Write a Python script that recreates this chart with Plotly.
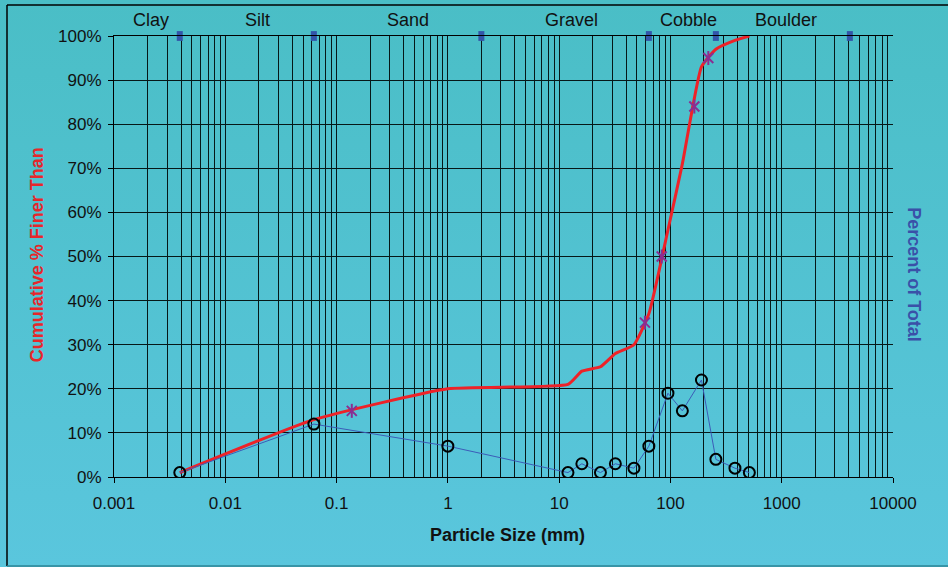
import base64
import numpy as np
import plotly.graph_objects as go

# Particle size classes (mm) and their share of the sample
sizes_mm = [0.0039, 0.0625, 1, 12, 16, 23.5, 32, 47, 64, 95, 128, 190, 256, 380, 512]
percent_of_total = [1, 12, 7, 1, 3, 1, 3, 2, 7, 19, 15, 22, 4, 2, 1]
cumulative_finer = [1, 13, 20, 21, 24, 25, 28, 30, 37, 56, 71, 93, 97, 99, 100]

# Characteristic grain sizes (D15, D35, D50, D84, D95)
d_sizes_mm = [0.137, 59, 83.5, 164, 219]
d_percents = [15, 35, 50, 84, 95]

# Wentworth class boundaries and class names
class_bounds_mm = [0.0039, 0.0625, 2, 64, 256, 4096]
class_names = ["Clay", "Silt", "Sand", "Gravel", "Cobble", "Boulder"]
class_label_mm = [0.00215, 0.0195, 0.435, 13, 145, 1100]

x_tick_vals = [0.001, 0.01, 0.1, 1, 10, 100, 1000, 10000]
x_tick_text = ["0.001", "0.01", "0.1", "1", "10", "100", "1000", "10000"]
y_tick_vals = list(range(0, 101, 10))
y_tick_text = [f"{v}%" for v in y_tick_vals]

FONT = "Liberation Sans, Arial, sans-serif"
GRID = "#061818"
RED = "#ee2228"
BLUE_LINE = "#3c5cb8"
BLUE_TITLE = "#3a50a8"
PURPLE = "#8a2e92"

fig = go.Figure()

# Percent of total (right axis)
fig.add_trace(go.Scatter(
    x=sizes_mm, y=percent_of_total, yaxis="y2", mode="lines+markers",
    line=dict(color=BLUE_LINE, width=1),
    marker=dict(symbol="circle-open", size=11, color="#000000",
                line=dict(color="#000000", width=2)),
    showlegend=False, hoverinfo="x+y",
))

# Cumulative % finer than
fig.add_trace(go.Scatter(
    x=sizes_mm, y=cumulative_finer, mode="lines",
    line=dict(color=RED, width=3, shape="spline", smoothing=0.45),
    showlegend=False, hoverinfo="x+y",
))

# Characteristic sizes drawn as star markers (x with a vertical stroke)
for sym in ("x-thin-open", "line-ns-open"):
    fig.add_trace(go.Scatter(
        x=d_sizes_mm, y=d_percents, mode="markers",
        marker=dict(symbol=sym, size=10, color=PURPLE,
                    line=dict(color=PURPLE, width=2)),
        showlegend=False, hoverinfo="x+y",
    ))

# Class boundary markers along the top edge
fig.add_trace(go.Scatter(
    x=class_bounds_mm, y=[100] * len(class_bounds_mm), mode="markers",
    marker=dict(symbol="line-ns-open", size=7, color="#3355aa",
                line=dict(color="#3355aa", width=6)),
    cliponaxis=False, showlegend=False, hoverinfo="x",
))

annotations = []
for name, xm in zip(class_names, class_label_mm):
    annotations.append(dict(
        x=np.log10(xm), y=1.036, xref="x", yref="paper", text=name,
        showarrow=False, font=dict(family=FONT, size=18, color="#111111"),
        xanchor="center", yanchor="middle",
    ))
annotations += [
    dict(x=0.5, y=-0.131, xref="paper", yref="paper", xshift=4,
         text="<b>Particle Size (mm)</b>", showarrow=False,
         font=dict(family=FONT, size=18, color="#111111"),
         xanchor="center", yanchor="middle"),
    dict(x=-0.0987, y=0.503, xref="paper", yref="paper",
         text="<b>Cumulative % Finer Than</b>", showarrow=False, textangle=-90,
         font=dict(family=FONT, size=18, color="#e8262a"),
         xanchor="center", yanchor="middle"),
    dict(x=1.0268, y=0.458, xref="paper", yref="paper",
         text="<b>Percent of Total</b>", showarrow=False, textangle=90,
         font=dict(family=FONT, size=18, color=BLUE_TITLE),
         xanchor="center", yanchor="middle"),
]

# Vertical teal gradient behind the whole figure
svg = (
    '<svg xmlns="http://www.w3.org/2000/svg" width="100" height="100" preserveAspectRatio="none">'
    '<defs><linearGradient id="g" x1="0" y1="0" x2="0" y2="1">'
    '<stop offset="0" stop-color="#4abec6"/><stop offset="1" stop-color="#5ac6dd"/>'
    '</linearGradient></defs><rect width="100" height="100" fill="url(#g)"/></svg>'
)
bg_uri = "data:image/svg+xml;base64," + base64.b64encode(svg.encode()).decode()

W, H = 948, 567
ML, MR, MT, MB = 114, 55, 36, 90
pw, ph = W - ML - MR, H - MT - MB

def px_x(px):
    return (px - ML) / pw

def px_y(py):
    return 1 - (py - MT) / ph

shapes = [
    dict(type="line", xref="paper", yref="paper", x0=px_x(7), x1=px_x(960),
         y0=px_y(5), y1=px_y(5), line=dict(color="#000000", width=1.5)),
    dict(type="line", xref="paper", yref="paper", x0=px_x(7), x1=px_x(7),
         y0=px_y(5), y1=px_y(566), line=dict(color="#000000", width=1.5)),
    dict(type="line", xref="paper", yref="paper", x0=px_x(7), x1=px_x(960),
         y0=px_y(566), y1=px_y(566), line=dict(color="#2e8494", width=1.5)),
]

fig.update_layout(
    width=W, height=H,
    margin=dict(l=ML, r=MR, t=MT, b=MB, pad=0),
    paper_bgcolor="#52c2d2", plot_bgcolor="rgba(0,0,0,0)",
    font=dict(family=FONT, size=17, color="#111111"),
    images=[dict(source=bg_uri, xref="paper", yref="paper",
                 x=-ML / pw, y=1 + MT / ph, sizex=W / pw, sizey=H / ph,
                 xanchor="left", yanchor="top", sizing="stretch", layer="below")],
    xaxis=dict(
        type="log", range=[-3, 4], tickvals=x_tick_vals, ticktext=x_tick_text,
        showgrid=True, gridcolor=GRID, gridwidth=1,
        minor=dict(dtick="D1", showgrid=True, gridcolor=GRID, gridwidth=1, ticks=""),
        showline=True, linecolor="#000000", linewidth=1, mirror=True,
        ticks="outside", ticklen=5, tickcolor="#000000",
        ticklabelstandoff=6, zeroline=False,
        tickfont=dict(family=FONT, size=17, color="#111111"),
    ),
    yaxis=dict(
        range=[0, 100], tickvals=y_tick_vals, ticktext=y_tick_text,
        showgrid=True, gridcolor=GRID, gridwidth=1,
        showline=True, linecolor="#000000", linewidth=1,
        ticks="outside", ticklen=5, tickcolor="#000000",
        ticklabelstandoff=3, zeroline=False,
        tickfont=dict(family=FONT, size=17, color="#111111"),
    ),
    yaxis2=dict(
        range=[0, 100], overlaying="y", side="right", showgrid=False,
        showticklabels=False, showline=False, zeroline=False,
    ),
    annotations=annotations,
    shapes=shapes,
    showlegend=False,
)

fig.write_html("out.html")
